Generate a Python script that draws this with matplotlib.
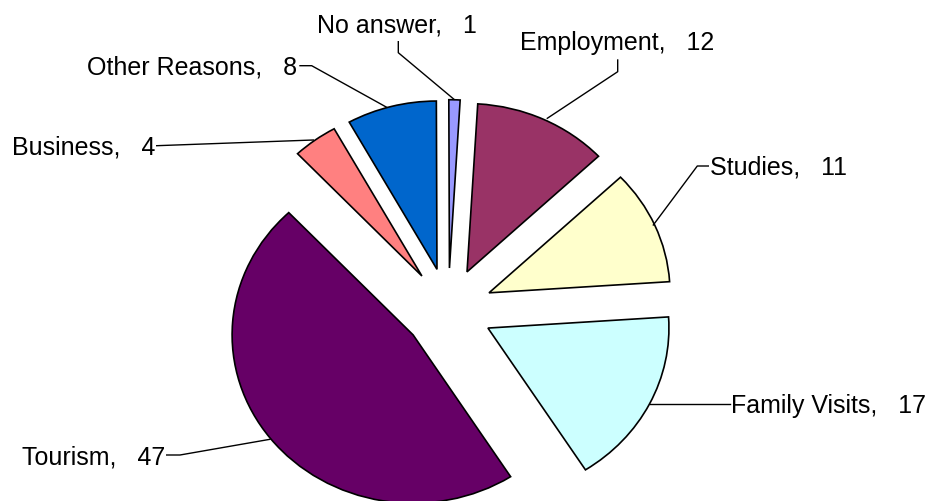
import matplotlib
matplotlib.use("Agg")
import matplotlib.pyplot as plt
from matplotlib.lines import Line2D

# ---- data ----
categories = ["Employment", "Studies", "Family Visits", "Tourism",
              "Business", "Other Reasons", "No answer"]
values = [12, 11, 17, 47, 4, 8, 1]
colors = ["#993366", "#FFFFCC", "#CCFFFF", "#660066",
          "#FF8080", "#0066CC", "#9999FF"]

W, H = 935, 501
fig = plt.figure(figsize=(W / 100, H / 100), dpi=100)
fig.patch.set_facecolor("white")

# pie geometry (pixels)
cx, cy = 448.2, 309.4
rx = 181.0
ry = 168.3

ax = fig.add_axes([0, 0, 1, 1])
wedges, _ = ax.pie(values, colors=colors, startangle=86.6, counterclock=False,
                   explode=[0.246] * len(values), radius=1.0,
                   wedgeprops=dict(edgecolor="black", linewidth=1.2))
ax.set_aspect("auto")
ax.set_xlim(-cx / rx, (W - cx) / rx)
ax.set_ylim(-(H - cy) / ry, cy / ry)
ax.axis("off")

def P(x, y):
    return x / W, 1 - y / H

# label layout: (text anchor x, leader y, ha, leader polyline in px)
layout = {
    "No answer":     (396.5, 23.3, "center", [(398.3, 41.7), (398.3, 52.7), (454, 99.3)]),
    "Employment":    (617.3, 41.5, "center", [(617.7, 60), (617.7, 71.7), (547.3, 118.3)]),
    "Studies":       (710.5, 166, "left",   [(708.3, 166), (697.3, 166), (653.3, 225)]),
    "Family Visits": (731.0, 404, "left",   [(730, 404), (650, 404)]),
    "Tourism":       (165.0, 455.3, "right", [(166.7, 455), (180, 455), (270, 439.3)]),
    "Business":      (155.5, 145.7, "right", [(156.7, 145.7), (313.3, 140)]),
    "Other Reasons": (297.0, 65.7, "right",  [(300, 65.7), (311.7, 65.7), (386.7, 107.3)]),
}

fs = 18
for name, val in zip(categories, values):
    tx, ty, ha, pts = layout[name]
    xs = [p[0] / W for p in pts]
    ys = [1 - p[1] / H for p in pts]
    fig.add_artist(Line2D(xs, ys, transform=fig.transFigure, color="black", lw=1.0))
    bx, by = P(tx, ty + 8.8)
    fig.text(bx, by, f"{name},   {val}", ha=ha, va="baseline",
             fontsize=fs, family=["Liberation Sans", "DejaVu Sans"], color="black")

fig.savefig("out.png", dpi=100, facecolor="white")
